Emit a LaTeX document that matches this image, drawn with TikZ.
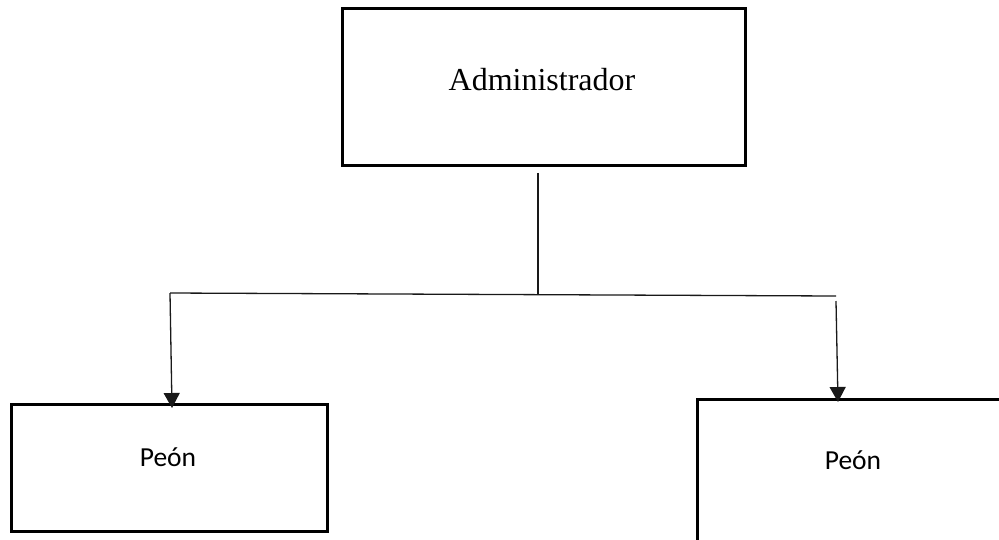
\documentclass[tikz,border=0pt]{standalone}
\usepackage{fontspec}
\setmainfont{Liberation Serif}
\newfontfamily\calib{Carlito}
\usetikzlibrary{arrows.meta,calc}
\begin{document}
\begin{tikzpicture}[x=1pt,y=-1pt,
  boxnode/.style={draw=black, line width=2.8pt, inner sep=0pt, anchor=north west},
  conn/.style={draw=black!90, line width=1.3pt},
  tiparrow/.style={-{Triangle[width=16pt,length=15pt]}},
  admintext/.style={font=\fontsize{32}{38}\selectfont, inner sep=0pt},
  peontext/.style={font=\calib\fontsize{27.5}{33}\selectfont, inner sep=0pt}]
\useasboundingbox (0,0) rectangle (999,539);
\clip (0,0) rectangle (999,539);
% boxes
\node[boxnode, minimum width=403pt, minimum height=157pt] (admin) at (341,7) {};
\node[admintext] (admint) at (542,80) {Administrador};
\node[boxnode, minimum width=316pt, minimum height=127pt] (p1) at (10,403) {};
\node[peontext] (p1t) at (168,457) {Peón};
\node[boxnode, minimum width=330pt, minimum height=180pt] (p2) at (696,398) {};
\node[peontext] (p2t) at (853,460) {Peón};
% connectors
\coordinate (j) at (538,293.5);
\coordinate (l) at (170,293);
\coordinate (r) at (836,296);
\draw[conn] ([yshift=-6pt]admin.south -| j) -- (j);
\draw[conn] (l) -- (r);
\draw[conn, tiparrow] (l) -- ($(p1.north west)+(162,5)$);
\draw[conn, tiparrow] ($(r)+(0,5)$) -- ($(p2.north west)+(142,4)$);
\end{tikzpicture}
\end{document}
